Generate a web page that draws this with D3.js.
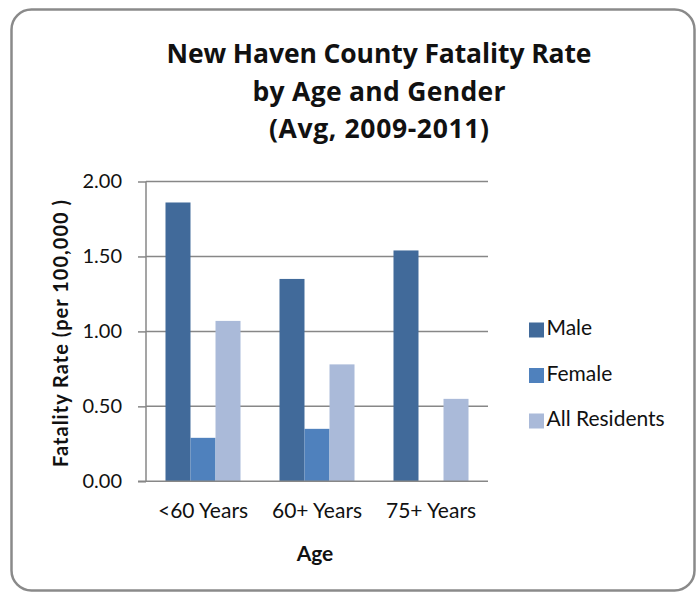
<!DOCTYPE html>
<html>
<head>
<meta charset="utf-8">
<script src="https://cdn.jsdelivr.net/npm/d3@7"></script>
<style>
  html, body { margin: 0; padding: 0; background: #fff; }
  svg { display: block; }
  text { font-family: Lato, "Open Sans", sans-serif; fill: #111; }
</style>
</head>
<body>
<svg id="chart" width="698" height="592"></svg>
<script>
const categories = ["<60 Years", "60+ Years", "75+ Years"];
const seriesNames = ["Male", "Female", "All Residents"];
const maleValues = [1.86, 1.35, 1.54];
const femaleValues = [0.29, 0.35, null];
const allResidentsValues = [1.07, 0.78, 0.55];
const yTicks = [0, 0.5, 1.0, 1.5, 2.0];
const titleLines = ["New Haven County Fatality Rate", "by Age and Gender", "(Avg, 2009-2011)"];
const titleWidths = [425, 253, 220];
const yAxisTitle = "Fatality Rate (per 100,000 )";
const xAxisTitle = "Age";
const colors = ["#416A9A", "#4F81BD", "#AABAD9"];

const seriesValues = [maleValues, femaleValues, allResidentsValues];
const svg = d3.select("#chart");

// outer frame
svg.append("rect")
  .attr("x", 11.5).attr("y", 9.5).attr("width", 683).attr("height", 581)
  .attr("rx", 20).attr("ry", 20)
  .attr("fill", "#fff").attr("stroke", "#8a8a8a").attr("stroke-width", 2.5);

// title
titleLines.forEach((t, i) => {
  svg.append("text").attr("text-anchor", "middle")
    .attr("x", 379).attr("y", 63 + i * 37.5)
    .attr("textLength", titleWidths[i]).attr("lengthAdjust", "spacing")
    .style("font-family", "'Open Sans', sans-serif")
    .style("font-weight", "bold").style("font-size", "26.5px").text(t);
});

const plot = { left: 146, right: 488, top: 181.5, bottom: 481.3 };

const y = d3.scaleLinear().domain([0, 2]).range([plot.bottom, plot.top]);
const x0 = d3.scaleBand().domain(categories).range([plot.left, plot.right])
  .paddingInner(0.342).paddingOuter(0.171);
const x1 = d3.scaleBand().domain(seriesNames).range([0, x0.bandwidth()]);

// gridlines
svg.append("g").selectAll("line").data(yTicks.filter(d => d > 0)).join("line")
  .attr("x1", plot.left).attr("x2", plot.right)
  .attr("y1", d => y(d)).attr("y2", d => y(d))
  .attr("stroke", "#878787").attr("stroke-width", 1.5);

// y axis
const yAxis = d3.axisLeft(y).tickValues(yTicks).tickFormat(d3.format(".2f"))
  .tickSize(8).tickPadding(16);
const yg = svg.append("g").attr("transform", `translate(${plot.left},0)`).call(yAxis);
yg.select(".domain").remove();
yg.selectAll(".tick line").attr("stroke", "#878787").attr("stroke-width", 1.5);
yg.selectAll(".tick text").style("font-family", "Lato, sans-serif").style("font-size", "20px").attr("fill", "#222");

// bars
const data = [];
categories.forEach((c, i) => {
  seriesNames.forEach((s, j) => {
    const v = seriesValues[j][i];
    if (v !== null && v !== undefined) data.push({ cat: c, series: s, value: v, color: colors[j] });
  });
});
svg.append("g").selectAll("rect").data(data).join("rect")
  .attr("x", d => x0(d.cat) + x1(d.series))
  .attr("width", x1.bandwidth())
  .attr("y", d => y(d.value))
  .attr("height", d => y(0) - y(d.value))
  .attr("fill", d => d.color);

// axis lines
svg.append("line").attr("x1", plot.left).attr("x2", plot.left)
  .attr("y1", plot.top).attr("y2", plot.bottom)
  .attr("stroke", "#878787").attr("stroke-width", 1.5);
svg.append("line").attr("x1", plot.left - 8).attr("x2", plot.right)
  .attr("y1", plot.bottom).attr("y2", plot.bottom)
  .attr("stroke", "#878787").attr("stroke-width", 1.5);

// x axis labels
const xAxis = d3.axisBottom(x0).tickSize(0).tickPadding(22);
const xg = svg.append("g").attr("transform", `translate(0,${plot.bottom})`).call(xAxis);
xg.select(".domain").remove();
xg.selectAll(".tick text").style("font-family", "Lato, sans-serif").style("font-size", "21px").attr("fill", "#222");

// axis titles
svg.append("text").attr("x", 315).attr("y", 561).attr("text-anchor", "middle")
  .style("font-weight", "bold").style("font-size", "21px").text(xAxisTitle);
svg.append("text").attr("transform", "translate(68,333.5) rotate(-90)")
  .attr("text-anchor", "middle")
  .attr("textLength", 267).attr("lengthAdjust", "spacing")
  .style("font-weight", "bold").style("font-size", "20px").text(yAxisTitle);

// legend
const legend = svg.append("g").selectAll("g").data(seriesNames).join("g")
  .attr("transform", (d, i) => `translate(529,${322.5 + i * 45.5})`);
legend.append("rect").attr("width", 15).attr("height", 15).attr("fill", (d, i) => colors[i]);
legend.append("text").attr("x", 17.5).attr("y", 12.5)
  .style("font-size", "21px").attr("fill", "#222").text(d => d);
</script>
</body>
</html>
